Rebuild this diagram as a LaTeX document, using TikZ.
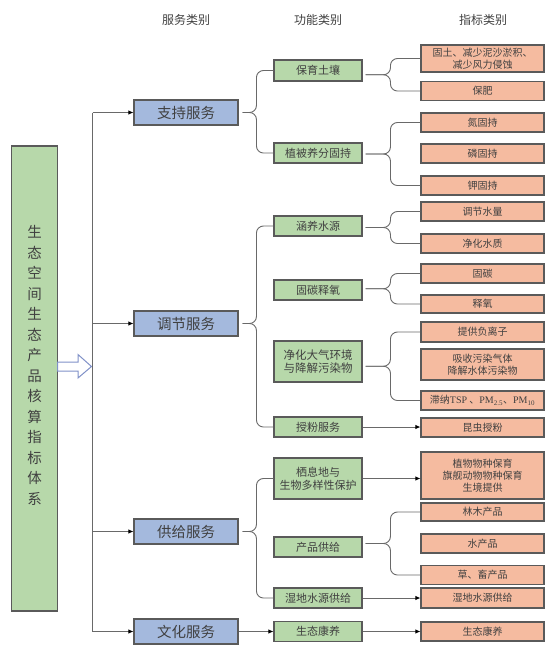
\documentclass[tikz,border=0pt]{standalone}
\usepackage{fontspec}
\setmainfont{Noto Sans CJK SC}
\newfontfamily\latinfont{Liberation Serif}
\usetikzlibrary{arrows.meta,calc}
\definecolor{gfill}{RGB}{183,216,170}
\definecolor{bfill}{RGB}{164,185,221}
\definecolor{ofill}{RGB}{245,187,160}
\definecolor{edgecol}{RGB}{90,90,90}
\definecolor{txtcol}{RGB}{64,64,64}
\definecolor{lincol}{RGB}{105,105,105}
\definecolor{hollcol}{RGB}{128,145,200}
\begin{document}
\begin{tikzpicture}[x=1pt,y=-1pt,
 box/.style={draw=edgecol,line width=1.1pt,inner sep=0pt,text=txtcol,align=center},
 bluebox/.style={box,fill=bfill,minimum width=104pt,minimum height=25pt,font=\fontsize{14.5}{16}\selectfont},
 greenbox/.style={box,fill=gfill,minimum width=88pt,minimum height=20pt,font=\fontsize{11}{13.3}\selectfont},
 orangebox/.style={box,fill=ofill,minimum width=123pt,minimum height=19pt,font=\fontsize{10}{11.8}\selectfont},
 headtext/.style={text=txtcol,font=\fontsize{12}{14}\selectfont},
 conn/.style={draw=lincol,line width=0.9pt},
 arr/.style={conn,-{Latex[length=5pt,width=4.5pt,color=black]}},
 brace/.style={conn,rounded corners=7pt}]
\useasboundingbox (0,0) rectangle (554,649);

% headers
\node[headtext] (h1) at (186,20) {服务类别};
\node[headtext] (h2) at (318,20) {功能类别};
\node[headtext] (h3) at (483,20) {指标类别};

% left column
\node[box,fill=gfill,minimum width=46pt,minimum height=465pt] (L) at (34.6,378.5) {};
\node[text=txtcol,font=\fontsize{14.5}{20.5}\selectfont,align=center,text width=16pt,inner sep=0pt] (Ltxt) at (34.6,365.5)
 {生\\态\\空\\间\\生\\态\\产\\品\\核\\算\\指\\标\\体\\系};

% hollow arrow
\draw[draw=hollcol,line width=1pt,fill=white] (57.5,362) -- (78,362) -- (78,354.5) -- (91.5,366.5) -- (78,378) -- (78,371) -- (57.5,371) -- cycle;

% blue boxes
\node[bluebox] (b1) at (186,112.5) {支持服务};
\node[bluebox] (b2) at (186,323.5) {调节服务};
\node[bluebox] (b3) at (186,531.5) {供给服务};
\node[bluebox] (b4) at (186,631.5) {文化服务};

% green boxes
\node[greenbox,minimum height=21pt] (g1) at (318,70.5) {保育土壤};
\node[greenbox] (g2) at (318,153) {植被养分固持};
\node[greenbox] (g3) at (318,226) {涵养水源};
\node[greenbox] (g4) at (318,290) {固碳释氧};
\node[greenbox,minimum height=41pt,font=\fontsize{11.5}{13.5}\selectfont] (g5) at (318,361.5) {净化大气环境\\与降解污染物};
\node[greenbox] (g6) at (318,427) {授粉服务};
\node[greenbox,minimum height=41pt] (g7) at (318,478.5) {栖息地与\\生物多样性保护};
\node[greenbox] (g8) at (318,547) {产品供给};
\node[greenbox] (g9) at (318,598) {湿地水源供给};
\node[greenbox] (g10) at (318,631.5) {生态康养};

% orange boxes
\node[orangebox,minimum height=27pt] (o1) at (482.5,58.5) {固土、减少泥沙淤积、\\减少风力侵蚀};
\node[orangebox] (o2) at (482.5,91) {保肥};
\node[orangebox] (o3) at (482.5,122.5) {氮固持};
\node[orangebox] (o4) at (482.5,153.5) {磷固持};
\node[orangebox] (o5) at (482.5,185.5) {钾固持};
\node[orangebox] (o6) at (482.5,211.5) {调节水量};
\node[orangebox] (o7) at (482.5,243.5) {净化水质};
\node[orangebox] (o8) at (482.5,273.5) {固碳};
\node[orangebox,minimum height=18pt] (o9) at (482.5,304) {释氧};
\node[orangebox,minimum height=20pt] (o10) at (482.5,332) {提供负离子};
\node[orangebox,minimum height=31pt] (o11) at (482.5,364.5) {吸收污染气体\\降解水体污染物};
\node[orangebox] (o12) at (482.5,400.5) {滞纳{\latinfont TSP} 、{\latinfont PM\textsubscript{2.5}}、{\latinfont PM\textsubscript{10}}};
\node[orangebox] (o13) at (482.5,427.5) {昆虫授粉};
\node[orangebox,minimum height=47pt,font=\fontsize{10}{12.2}\selectfont] (o14) at (482.5,475.5) {植物物种保育\\旗舰动物物种保育\\生境提供};
\node[orangebox,minimum height=18pt] (o15) at (482.5,512) {林木产品};
\node[orangebox] (o16) at (482.5,543.5) {水产品};
\node[orangebox] (o17) at (482.5,575) {草、畜产品};
\node[orangebox,minimum height=20pt] (o18) at (482.5,598) {湿地水源供给};
\node[orangebox] (o19) at (482.5,631.5) {生态康养};

% trunk and arrows to service boxes
\coordinate (t1) at (92.6,112.5);
\coordinate (t4) at (92.6,631.5);
\draw[conn] (t1) -- (t4);
\draw[arr] (b1.west -| t1) -- (b1.west);
\draw[arr] (b2.west -| t1) -- (b2.west);
\draw[arr] (b3.west -| t1) -- (b3.west);
\draw[arr] (b4.west -| t1) -- (b4.west);

% left braces (service -> function)
\coordinate (k1) at ($(b1.east)+(4,0)$);
\draw[brace] (k1) -| ($(g1.west)+(-17,0)$) -- (g1.west);
\draw[brace] (k1) -| ($(g2.west)+(-17,0)$) -- (g2.west);
\coordinate (k2) at ($(b2.east)+(4,0)$);
\draw[brace] (k2) -| ($(g3.west)+(-17,0)$) -- (g3.west);
\draw[brace] (k2) -| ($(g6.west)+(-17,0)$) -- (g6.west);
\coordinate (k3) at ($(b3.east)+(4,0)$);
\draw[brace] (k3) -| ($(g7.west)+(-17,0)$) -- (g7.west);
\draw[brace] (k3) -| ($(g9.west)+(-17,0)$) -- (g9.west);
\draw[arr] (b4.east) -- (b4.east -| g10.west);

% right braces (function -> indicator)
\coordinate (m1) at ($(o1.west)!.5!(o2.west)$);
\coordinate (r1) at ($(g1.east |- m1)+(3,0)$);
\draw[brace] (r1) -| ($(o1.west)+(-30,0)$) -- (o1.west);
\draw[brace] (r1) -| ($(o2.west)+(-30,0)$) -- (o2.west);

\coordinate (m2) at ($(o3.west)!.5!(o5.west)$);
\coordinate (r2) at ($(g2.east |- m2)+(3,0)$);
\draw[brace] (r2) -| ($(o3.west)+(-30,0)$) -- (o3.west);
\draw[brace] (r2) -| ($(o5.west)+(-30,0)$) -- (o5.west);

\coordinate (m3) at ($(o6.west)!.5!(o7.west)$);
\coordinate (r3) at ($(g3.east |- m3)+(3,0)$);
\draw[brace] (r3) -| ($(o6.west)+(-30,0)$) -- (o6.west);
\draw[brace] (r3) -| ($(o7.west)+(-30,0)$) -- (o7.west);

\coordinate (m4) at ($(o8.west)!.5!(o9.west)$);
\coordinate (r4) at ($(g4.east |- m4)+(3,0)$);
\draw[brace] (r4) -| ($(o8.west)+(-30,0)$) -- (o8.west);
\draw[brace] (r4) -| ($(o9.west)+(-30,0)$) -- (o9.west);

\coordinate (m5) at ($(o10.west)!.5!(o12.west)$);
\coordinate (r5) at ($(g5.east |- m5)+(3,0)$);
\draw[brace] (r5) -| ($(o10.west)+(-30,0)$) -- (o10.west);
\draw[brace] (r5) -| ($(o12.west)+(-30,0)$) -- (o12.west);

\coordinate (m8) at ($(o15.west)!.5!(o17.west)$);
\coordinate (r8) at ($(g8.east |- m8)+(3,0)$);
\draw[brace] (r8) -| ($(o15.west)+(-30,0)$) -- (o15.west);
\draw[brace] (r8) -| ($(o17.west)+(-30,0)$) -- (o17.west);

% straight arrows
\draw[arr] (g6.east) -- (g6.east -| o13.west);
\draw[arr] (g7.east) -- (g7.east -| o14.west);
\draw[arr] (g9.east) -- (g9.east -| o18.west);
\draw[arr] (g10.east) -- (g10.east -| o19.west);
\end{tikzpicture}
\end{document}
